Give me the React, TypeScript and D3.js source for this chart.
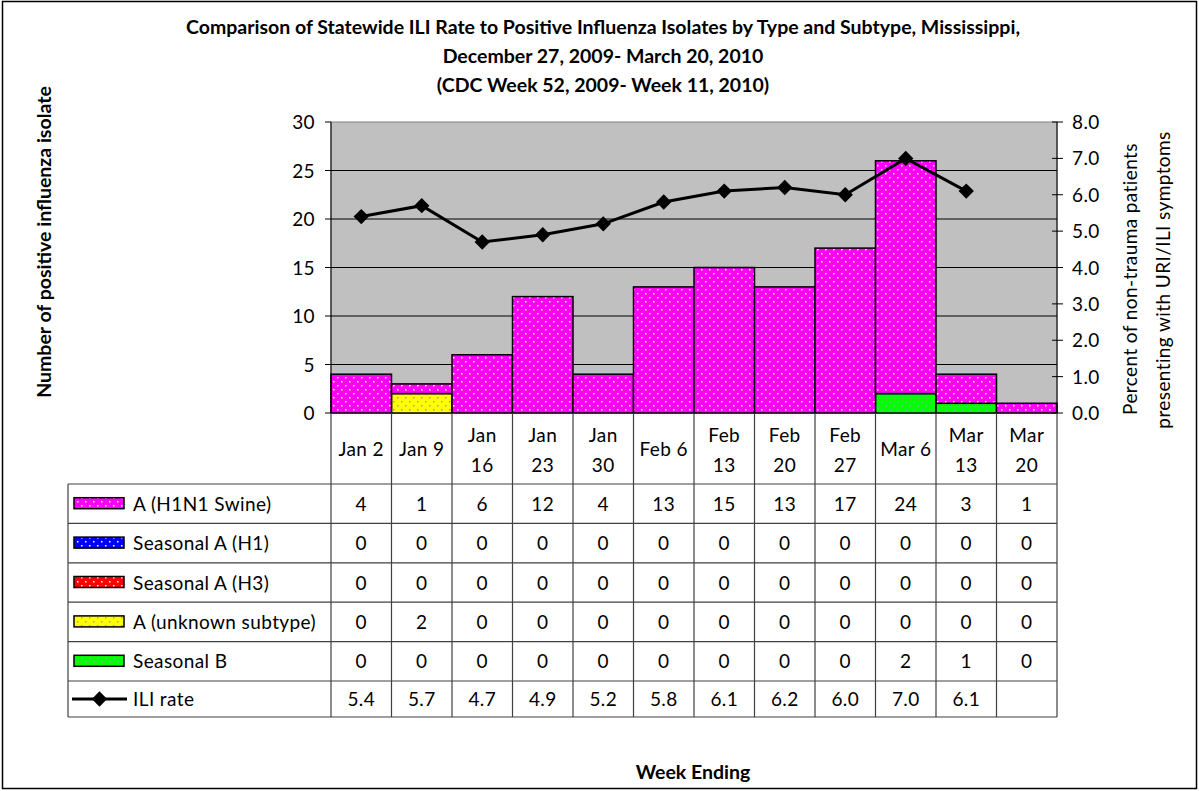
import React from 'react';
import * as d3 from 'd3';

// data
const weeks = ['Jan 2', 'Jan 9', 'Jan 16', 'Jan 23', 'Jan 30', 'Feb 6', 'Feb 13', 'Feb 20', 'Feb 27', 'Mar 6', 'Mar 13', 'Mar 20'];
const h1n1 = [4, 1, 6, 12, 4, 13, 15, 13, 17, 24, 3, 1];
const seasonalH1 = [0, 0, 0, 0, 0, 0, 0, 0, 0, 0, 0, 0];
const seasonalH3 = [0, 0, 0, 0, 0, 0, 0, 0, 0, 0, 0, 0];
const unknownA = [0, 2, 0, 0, 0, 0, 0, 0, 0, 0, 0, 0];
const seasonalB = [0, 0, 0, 0, 0, 0, 0, 0, 0, 2, 1, 0];
const iliRate: (number | null)[] = [5.4, 5.7, 4.7, 4.9, 5.2, 5.8, 6.1, 6.2, 6.0, 7.0, 6.1, null];
const leftTicks = [0, 5, 10, 15, 20, 25, 30];
const rightTicks = [0, 1, 2, 3, 4, 5, 6, 7, 8];

const series = [
	{ key: 'h1n1', label: 'A (H1N1 Swine)', values: h1n1, fill: '#FF00FF', dot: '#FFFFC8' },
	{ key: 'h1', label: 'Seasonal A (H1)', values: seasonalH1, fill: '#0000FF', dot: '#FFFFFF' },
	{ key: 'h3', label: 'Seasonal A (H3)', values: seasonalH3, fill: '#FF0000', dot: '#FFFFFF' },
	{ key: 'unk', label: 'A (unknown subtype)', values: unknownA, fill: '#FFFF00', dot: '#A0A0A0' },
	{ key: 'b', label: 'Seasonal B', values: seasonalB, fill: '#00FF00', dot: '#A0A0A0' },
];
// bottom-to-top stacking as seen in the picture
const stackOrder = ['b', 'unk', 'h3', 'h1', 'h1n1'];

const FONT = 'Lato, "Open Sans", sans-serif';
const FS = 19;      // regular text
const FSB = 19.5;   // bold text
const LS = 0.4;     // letter spacing for regular text

export default function App() {
	const W = 1199, H = 791;
	const left = 331, right = 1057, top = 122, base = 413;

	const x = d3.scaleBand<string>().domain(weeks).range([left, right]).padding(0);
	const yL = d3.scaleLinear().domain([0, 30]).range([base, top]);
	const yR = d3.scaleLinear().domain([0, 8]).range([base, top]);

	const rows = weeks.map((w, i) => {
		const r: any = { week: w };
		series.forEach(s => { r[s.key] = s.values[i]; });
		return r;
	});
	const stacked = d3.stack<any>().keys(stackOrder)(rows);

	const line = d3.line<number | null>()
		.defined(d => d !== null)
		.x((_, i) => x(weeks[i])! + x.bandwidth() / 2)
		.y(d => yR(d as number));

	const diamond = d3.symbol().type(d3.symbolDiamond2).size(150)();

	// table geometry
	const tableLeft = 68;
	const headBottom = 484;
	const rowH = 39.4;
	const tableBottom = 717;
	const tableRows = [...series.map(s => ({ label: s.label, kind: 'bar', s, values: s.values.map(v => String(v)) })),
		{ label: 'ILI rate', kind: 'line', s: null as any, values: iliRate.map(v => v === null ? '' : v.toFixed(1)) }];
	const rowEdges = tableRows.map((_, i) => headBottom + i * rowH);

	const twoLine = (w: string) => !['Jan 2', 'Jan 9', 'Feb 6', 'Mar 6'].includes(w);

	return (
		<svg width={W} height={H} style={{ position: 'absolute', left: 0, top: 0, background: '#fff' }} fontFamily={FONT}>
			<defs>
				{series.map(s => (
					<pattern key={s.key} id={'pat-' + s.key} width={8} height={8} patternUnits="userSpaceOnUse">
						<rect width={8} height={8} fill={s.fill} />
						<rect x={1} y={1} width={1.5} height={1.5} fill={s.dot} />
						<rect x={5} y={5} width={1.5} height={1.5} fill={s.dot} />
					</pattern>
				))}
			</defs>
			<rect x={2.5} y={1.5} width={1194} height={787} fill="none" stroke="#000" strokeWidth={1.5} />

			{/* title */}
			<g fontWeight="bold" fontSize={FSB} textAnchor="middle">
				<text x={603} y={34}>Comparison of Statewide ILI Rate to Positive Influenza Isolates by Type and Subtype, Mississippi,</text>
				<text x={603} y={63}>December 27, 2009- March 20, 2010</text>
				<text x={603} y={92}>(CDC Week 52, 2009- Week 11, 2010)</text>
			</g>

			{/* plot area */}
			<rect x={left} y={top} width={right - left} height={base - top} fill="#C0C0C0" stroke="#808080" />
			{leftTicks.slice(1, -1).map(t => (
				<line key={t} x1={left} x2={right} y1={yL(t)} y2={yL(t)} stroke="#000" strokeWidth={1} />
			))}

			{/* stacked bars */}
			{stacked.map(layer => (
				<g key={layer.key}>
					{layer.map((d, i) => d[1] - d[0] > 0 ? (
						<rect key={i} x={x(weeks[i])} y={yL(d[1])} width={x.bandwidth()} height={yL(d[0]) - yL(d[1])}
							fill={`url(#pat-${layer.key})`} stroke="#000" strokeWidth={1.5} />
					) : null)}
				</g>
			))}

			{/* ILI line */}
			<path d={line(iliRate) || ''} fill="none" stroke="#000" strokeWidth={3} />
			{iliRate.map((v, i) => v === null ? null : (
				<path key={i} d={diamond || ''} transform={`translate(${x(weeks[i])! + x.bandwidth() / 2},${yR(v)})`} fill="#000" />
			))}

			{/* left axis */}
			<line x1={left} x2={left} y1={top} y2={base} stroke="#000" />
			{leftTicks.map(t => (
				<g key={t}>
					<line x1={left - 6} x2={left} y1={yL(t)} y2={yL(t)} stroke="#000" />
					<text x={315} y={yL(t) + 7} textAnchor="end" fontSize={FS} letterSpacing={LS}>{t}</text>
				</g>
			))}
			{/* right axis */}
			<line x1={right} x2={right} y1={top} y2={base} stroke="#000" />
			{rightTicks.map(t => (
				<g key={t}>
					<line x1={right - 5} x2={right + 6} y1={yR(t)} y2={yR(t)} stroke="#000" />
					<text x={1072} y={yR(t) + 7} fontSize={FS} letterSpacing={LS}>{t.toFixed(1)}</text>
				</g>
			))}

			{/* axis titles */}
			<text transform={`translate(51,242) rotate(-90)`} textAnchor="middle" fontWeight="bold" fontSize={FSB}>Number of positive influenza isolate</text>
			<text transform={`translate(1137,279) rotate(-90)`} textAnchor="middle" fontSize={FS} letterSpacing={LS}>Percent of non-trauma patients</text>
			<text transform={`translate(1170,280) rotate(-90)`} textAnchor="middle" fontSize={FS} letterSpacing={LS}>presenting with URI/ILI symptoms</text>
			<text x={693} y={779} textAnchor="middle" fontWeight="bold" fontSize={FSB}>Week Ending</text>

			{/* data table */}
			<g stroke="#404040" strokeWidth={1.2}>
				{weeks.map(w => (
					<line key={w} x1={x(w)} x2={x(w)} y1={base} y2={tableBottom} />
				))}
				<line x1={right} x2={right} y1={base} y2={tableBottom} />
				<line x1={tableLeft} x2={tableLeft} y1={headBottom} y2={tableBottom} />
				{rowEdges.map(y => <line key={y} x1={tableLeft} x2={right} y1={y} y2={y} />)}
				<line x1={tableLeft} x2={right} y1={tableBottom} y2={tableBottom} />
			</g>
			{weeks.map(w => {
				const cx = x(w)! + x.bandwidth() / 2;
				const parts = w.split(' ');
				return twoLine(w) ? (
					<g key={w} fontSize={FS} letterSpacing={LS} textAnchor="middle">
						<text x={cx} y={442}>{parts[0]}</text>
						<text x={cx} y={472}>{parts[1]}</text>
					</g>
				) : (
					<text key={w} x={cx} y={456} fontSize={FS} letterSpacing={LS} textAnchor="middle">{w}</text>
				);
			})}
			{tableRows.map((r, ri) => {
				const y0 = rowEdges[ri];
				const h = ri === tableRows.length - 1 ? tableBottom - y0 : rowH;
				const cy = y0 + h / 2;
				return (
					<g key={r.label}>
						{r.kind === 'bar' ? (
							<rect x={74} y={cy - 6} width={50} height={11} fill={`url(#pat-${r.s.key})`} stroke="#000" strokeWidth={1.5} />
						) : (
							<g>
								<line x1={72} x2={127} y1={cy} y2={cy} stroke="#000" strokeWidth={3} />
								<path d={diamond || ''} transform={`translate(99.5,${cy})`} fill="#000" />
							</g>
						)}
						<text x={133} y={cy + 7} fontSize={FS} letterSpacing={LS}>{r.label}</text>
						{r.values.map((v, i) => (
							<text key={i} x={x(weeks[i])! + x.bandwidth() / 2} y={cy + 7} fontSize={FS} letterSpacing={LS} textAnchor="middle">{v}</text>
						))}
					</g>
				);
			})}
		</svg>
	);
}
